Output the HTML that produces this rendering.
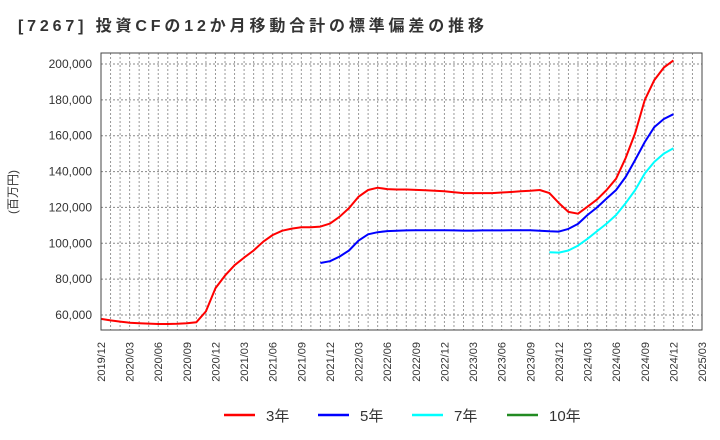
<!DOCTYPE html>
<html><head><meta charset="utf-8"><style>
body{margin:0;background:#fff;width:720px;height:440px;overflow:hidden;font-family:"Liberation Sans","Noto Sans CJK JP",sans-serif}
svg{display:block}
</style></head><body>
<svg id="chart" width="720" height="440" xmlns="http://www.w3.org/2000/svg">
<text x="18" y="31" font-size="16" font-weight="bold" fill="#333" textLength="466" lengthAdjust="spacing" font-family="Liberation Sans, Noto Sans CJK JP, sans-serif">[7267]  投資CFの12か月移動合計の標準偏差の推移</text>
<text transform="translate(17,192) rotate(-90)" text-anchor="middle" font-size="12" fill="#333" font-family="Liberation Sans, Noto Sans CJK JP, sans-serif">(百万円)</text>
<g id="grid"></g>
<g id="yticks"></g>
<g id="xticks"></g>
<g id="series"></g>
<rect x="101" y="53" width="601" height="277" fill="none" stroke="#444" stroke-width="1"/>
<g id="legend"></g>
</svg>
<script>
const xTickLabels=["2019/12","2020/03","2020/06","2020/09","2020/12","2021/03","2021/06","2021/09","2021/12","2022/03","2022/06","2022/09","2022/12","2023/03","2023/06","2023/09","2023/12","2024/03","2024/06","2024/09","2024/12","2025/03"];
const yTickValues=[60000,80000,100000,120000,140000,160000,180000,200000];
const series3=[57800,57000,56300,55700,55400,55200,55000,55000,55100,55400,56000,62000,75000,82000,87800,92000,96000,100900,104600,107000,108200,109000,109000,109300,111000,114800,119600,126000,129700,131000,130200,130000,130000,129800,129600,129300,129000,128500,128000,128000,128000,128000,128300,128600,129000,129300,129700,128000,122400,117500,116500,120400,124500,129700,136000,147600,161500,180000,191000,198000,202000];
const series5=[null,null,null,null,null,null,null,null,null,null,null,null,null,null,null,null,null,null,null,null,null,null,null,89000,90000,92600,96000,101500,105000,106200,106800,107000,107200,107300,107300,107300,107300,107200,107100,107100,107200,107200,107200,107300,107300,107300,107000,106700,106500,108000,110800,115800,120000,125000,129700,137000,146500,156500,164800,169300,172000];
const series7=[null,null,null,null,null,null,null,null,null,null,null,null,null,null,null,null,null,null,null,null,null,null,null,null,null,null,null,null,null,null,null,null,null,null,null,null,null,null,null,null,null,null,null,null,null,null,null,95000,94800,96000,98700,102500,106800,111000,115800,122400,129700,139000,145400,150000,153000];
const series10=[];
const legendLabels=["3年","5年","7年","10年"];
const NS="http://www.w3.org/2000/svg";
const X0=101,X1=702,Y0=53,Y1=330;
function xScale(m){return X0+m*(X1-X0)/63;}
function yScale(v){return 315-(v-60000)*251/140000;}
function mk(tag,attrs,parent){const e=document.createElementNS(NS,tag);for(const k in attrs)e.setAttribute(k,attrs[k]);parent.appendChild(e);return e;}
const grid=document.getElementById('grid');
for(let m=1;m<63;m++){
  const l=mk('line',{x1:xScale(m),x2:xScale(m),y1:Y0,y2:Y1,stroke:'#999','stroke-dasharray':'2,2','stroke-width':1},grid);
  
  
}
const yt=document.getElementById('yticks');
yTickValues.forEach(v=>{
  const l=mk('line',{x1:X0,x2:X1,y1:yScale(v),y2:yScale(v),stroke:'#888','stroke-dasharray':'2,2','stroke-width':1},grid);
  
  
  const t=mk('text',{x:92,y:yScale(v)+4,'text-anchor':'end','font-size':12,fill:'#333'},yt);
  t.textContent=v.toLocaleString('en-US');
  
  
});
const xt=document.getElementById('xticks');
xTickLabels.forEach((s,i)=>{
  const x=xScale(i*3);
  const t=mk('text',{transform:`translate(${x+4},342) rotate(-90)`,'text-anchor':'end','font-size':11,fill:'#333'},xt);
  t.textContent=s;
  
  
});
const sg=document.getElementById('series');
function draw(data,color,name){
  let d='';let started=false;
  data.forEach((v,i)=>{if(v==null){started=false;return;}d+=(started?'L':'M')+xScale(i).toFixed(1)+','+yScale(v).toFixed(1);started=true;});
  if(!d)return;
  const p=mk('path',{d:d,fill:'none',stroke:color,'stroke-width':2,'stroke-linejoin':'round'},sg);
  
  
}
draw(series3,'#ff0000','line-3y');
draw(series5,'#0000ff','line-5y');
draw(series7,'#00ffff','line-7y');
draw(series10,'#228b22','line-10y');
const lg=document.getElementById('legend');
const lc=['#ff0000','#0000ff','#00ffff','#228b22'];
const lx=[224,318,412,507];
legendLabels.forEach((s,i)=>{
  const l=mk('line',{x1:lx[i],x2:lx[i]+31,y1:415,y2:415,stroke:lc[i],'stroke-width':2.5},lg);
  
  
  const t=mk('text',{x:lx[i]+42,y:421,'font-size':15,fill:'#333'},lg);
  t.textContent=s;
  
  
});
</script>
</body></html>
